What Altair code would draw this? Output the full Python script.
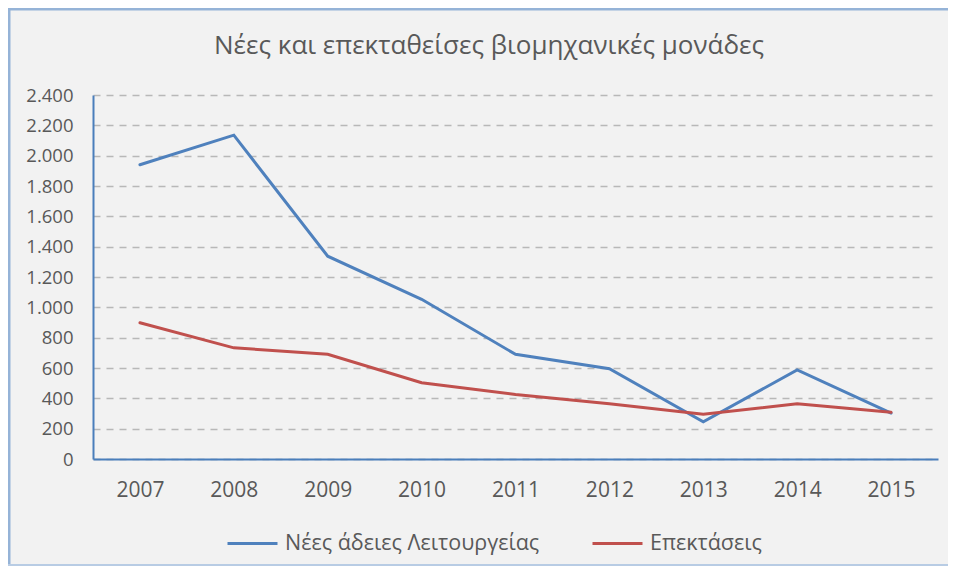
import altair as alt
import pandas as pd

years = ["2007", "2008", "2009", "2010", "2011", "2012", "2013", "2014", "2015"]
new_licenses = [1940, 2135, 1337, 1053, 690, 595, 246, 587, 303]
expansions = [898, 733, 690, 503, 426, 364, 295, 364, 308]
series_names = ["Νέες άδειες Λειτουργείας", "Επεκτάσεις"]
series_colors = ["#4f81bd", "#c0504d"]
y_ticks = [0, 200, 400, 600, 800, 1000, 1200, 1400, 1600, 1800, 2000, 2200, 2400]
title_text = "Νέες και επεκταθείσες βιομηχανικές μονάδες"

rows = []
for yr, a, b in zip(years, new_licenses, expansions):
    rows.append({"year": yr, "series": series_names[0], "value": a})
    rows.append({"year": yr, "series": series_names[1], "value": b})
df = pd.DataFrame(rows)

W, H = 845, 364
PL, PT, PR, PB = 85, 87, 10, 107

lines = alt.Chart(df).mark_line(strokeWidth=3, strokeCap="round").encode(
    x=alt.X("year:O", sort=years, title=None,
            scale=alt.Scale(type="point", padding=0.5),
            axis=alt.Axis(labelAngle=0, ticks=False, grid=False,
                          domainColor="#4a7ebb", domainWidth=2,
                          labelFontSize=21, labelColor="#595959",
                          labelFont="Open Sans", labelPadding=20)),
    y=alt.Y("value:Q", title=None,
            scale=alt.Scale(domain=[0, 2400], nice=False),
            axis=alt.Axis(values=y_ticks, ticks=False,
                          domainColor="#4a7ebb", domainWidth=2,
                          grid=True, gridColor="#b8b8b8", gridDash=[7, 6], gridWidth=1.5,
                          labelFontSize=18.5, labelColor="#595959",
                          labelFont="Open Sans", labelPadding=20,
                          labelExpr="replace(format(datum.value, ','), ',', '.')")),
    color=alt.Color("series:N", sort=series_names,
                    scale=alt.Scale(domain=series_names, range=series_colors),
                    legend=alt.Legend(title=None, orient="none", direction="horizontal",
                                      legendX=133, legendY=422,
                                      symbolType="stroke", symbolSize=2500,
                                      symbolStrokeWidth=3, labelLimit=500,
                                      labelFontSize=21.5, labelColor="#595959",
                                      labelFont="Open Sans", labelOffset=6,
                                      columnPadding=46)),
)

one = pd.DataFrame({"b": [0]})
bcol = "#95b3d7"
left_edge = alt.Chart(one).mark_rule(stroke=bcol, strokeWidth=2.5).encode(
    x=alt.value(-PL + 1.25), y=alt.value(-PT), y2=alt.value(H + PB))
top_edge = alt.Chart(one).mark_rule(stroke=bcol, strokeWidth=2.5).encode(
    x=alt.value(-PL), x2=alt.value(W + PR), y=alt.value(-PT + 1.25))
bottom_edge = alt.Chart(one).mark_rule(stroke="#b8cce4", strokeWidth=2).encode(
    x=alt.value(-PL), x2=alt.value(W + PR), y=alt.value(H + PB - 1))

title = alt.Chart(pd.DataFrame({"t": [title_text]})).mark_text(
    fontSize=26, font="Open Sans", color="#595959", align="center", baseline="alphabetic"
).encode(text="t:N", x=alt.value(396), y=alt.value(-41))

chart = alt.layer(left_edge, top_edge, bottom_edge, title, lines).properties(
    width=W, height=H,
    autosize=alt.AutoSizeParams(type="none"),
    padding={"left": PL, "top": PT, "right": PR, "bottom": PB},
).configure(background="#f2f2f2").configure_view(stroke=None)

chart.save("out.html", embed_options={"renderer": "svg", "actions": False})
